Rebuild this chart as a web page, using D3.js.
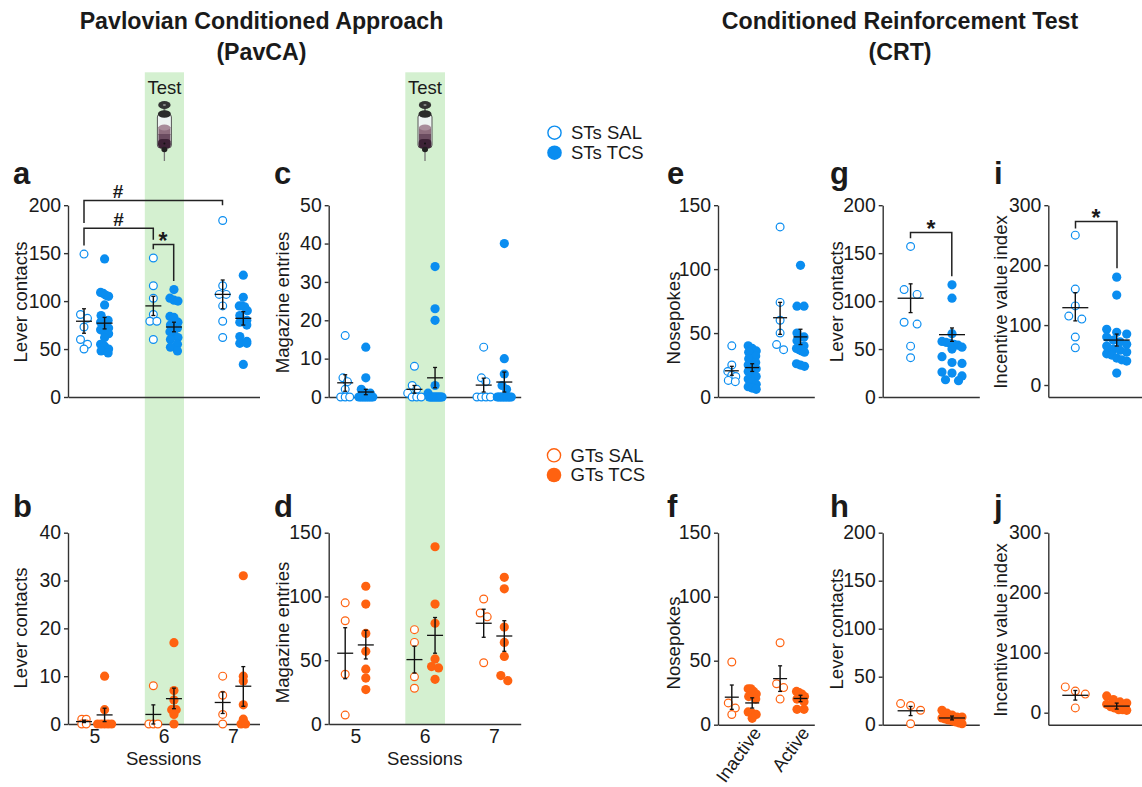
<!DOCTYPE html>
<html><head><meta charset="utf-8">
<script src="https://cdn.jsdelivr.net/npm/d3@7"></script>
<style>html,body{margin:0;padding:0;background:#fff}svg{display:block}text{font-family:"Liberation Sans",Arial,sans-serif;fill:#1a1a1a}</style>
</head><body><svg id="c" width="1142" height="787"></svg>
<script>
// ---------- data ----------
const sessions = [5, 6, 7];
const leverLabels = ["Inactive", "Active"];

const aSal = [[149,86,82,73,60,55,50],[145,116,103,86,79,79,60],[184,116,107,107,95,79,62]];
const aTcs = [[144,109,108,106,105,96,85,80,78,75,72,70,68,66,62,55,53,50,48,46],
              [112,103,101,100,84,83,78,75,72,68,65,62,60,55,52,48],
              [127,104,95,95,94,90,85,80,78,75,63,58,56,56,34]];
const aSalStat = [[79,66.5,92],[95,85,105],[107,92,122]];
const aTcsStat = [[77,71,83],[73,68,78],[82,75,89]];

const bSal = [[1,1,0,0],[8,0,0,0],[10,6,2,0]];
const bTcs = [[10,3,0,0,0,0,0],[17,7,5,3,3,2,0],[31,10,9,4,1,0,0]];
const bSalStat = [[0.5,0.3,0.8],[2,0,4],[4.5,2.2,6.7]];
const bTcsStat = [[1.9,0.5,3.3],[5.3,3.2,7.5],[7.9,3.7,12]];

const cSal = [[16,5,4,2,0,0,0],[8,3,2,1,0,0,0],[13,5,4,0,0,0,0]];
const cTcs = [[13,5,2,1,1,0,0,0,0,0,0,0,0,0],[34,23,20,3,1,0,0,0,0,0,0,0,0,0,0,0,0],[40,10,6,3,2,0,0,0,0,0,0,0,0,0,0]];
const cSalStat = [[3.7,1.5,5.8],[2,1,3],[3.1,1.3,4.9]];
const cTcsStat = [[1.3,0.6,2],[5,2.4,7.7],[3.9,1.3,6.5]];

const dSal = [[95,81,39,7],[74,64,37,28],[98,87,84,48]];
const dTcs = [[108,94,71,57,43,36,27],[139,94,79,51,45,44,35],[115,106,76,64,53,38,34]];
const dSalStat = [[55.5,35.5,75.5],[50.5,40,61],[79,68,90]];
const dTcsStat = [[62,51,73.5],[69.5,55.5,83.5],[69,57,81]];

const eSal = [[40,25,20,17,16,13,12],[133,74,60,50,41,37]];
const eTcs = [[40,38,36,35,32,30,27,25,24,22,20,18,16,14,12,10,8,7,6],[103,71,71,50,47,44,40,38,37,36,35,26,25,24]];
const eSalStat = [[20.5,17,24],[62,49,74]];
const eTcsStat = [[23,20,26],[47,41,53]];

const fSal = [[49,17,13,8],[64,32,29,20]];
const fTcs = [[28,28,26,24,22,20,10,9,8,5],[26,25,24,22,20,18,12,12]];
const fSalStat = [[21.5,12,31],[36,26,46]];
const fTcsStat = [[17,13,21],[20.5,18,23]];

const gSal = [157,112,107,78,76,53,41];
const gTcs = [117,103,66,58,57,56,55,54,52,50,42,36,35,26,25,22,18,17];
const gSalStat = [103,88,118];
const gTcsStat = [65,58,72];

const hSal = [22,20,15,1];
const hTcs = [15,12,10,8,8,7,6,5,4,3,2,1];
const hSalStat = [14.5,9.5,19];
const hTcsStat = [7,5,9];

const iSal = [250,160,132,115,110,80,62];
const iTcs = [180,150,93,88,85,80,75,72,68,65,60,58,55,52,50,45,42,40,20];
const iSalStat = [129,107,154];
const iTcsStat = [75,65,85];

const jSal = [43,36,31,8];
const jTcs = [28,22,18,16,14,10,8,5,5,4];
const jSalStat = [29,21,37];
const jTcsStat = [11,6,16];

// ---------- drawing ----------
const BLUE = "#0a8df0", ORANGE = "#ff6210", INK = "#1a1a1a", AXIS = "#333";
const svg = d3.select("#c");

function txt(x, y, s, size, opt = {}) {
  const t = svg.append("text").attr("x", x).attr("y", y).attr("font-size", size)
    .attr("text-anchor", opt.anchor || "middle").text(s);
  if (opt.bold) t.attr("font-weight", "bold");
  if (opt.rotate !== undefined) t.attr("transform", `rotate(${opt.rotate},${x},${y})`);
  return t;
}

// green "Test" bands + syringe
function syringe(cx) {
  const g = svg.append("g").attr("transform", `translate(${cx},0)`);
  g.append("line").attr("y1", 150).attr("y2", 161).attr("stroke", "#777").attr("stroke-width", 1.3);
  g.append("rect").attr("x", -1).attr("y", 106).attr("width", 2).attr("height", 8).attr("fill", "#777");
  g.append("ellipse").attr("cy", 105).attr("rx", 6.2).attr("ry", 4).attr("fill", "#333");
  g.append("ellipse").attr("cy", 105).attr("rx", 1.6).attr("ry", 1).attr("fill", "#888");
  g.append("rect").attr("x", -7).attr("y", 114).attr("width", 14).attr("height", 34).attr("rx", 3)
    .attr("fill", "#eef4f2").attr("stroke", "#555").attr("stroke-width", 1);
  g.append("rect").attr("x", -6).attr("y", 127).attr("width", 12).attr("height", 8).attr("fill", "#8f6f7f");
  g.append("ellipse").attr("cy", 127.5).attr("rx", 6).attr("ry", 3).attr("fill", "#a88c9a");
  g.append("rect").attr("x", -6).attr("y", 134).attr("width", 12).attr("height", 8).attr("fill", "#6b4c60");
  g.append("rect").attr("x", -6.4).attr("y", 139).attr("width", 12.8).attr("height", 9.5).attr("rx", 4).attr("fill", "#3d2236");
  g.append("ellipse").attr("cy", 114).attr("rx", 6.5).attr("ry", 3.8).attr("fill", "#2b2b2b");
  g.append("ellipse").attr("cy", 149.5).attr("rx", 3).attr("ry", 2.8).attr("fill", "#222");
  g.append("circle").attr("cy", 143.5).attr("r", 1).attr("fill", "#111");
}
[[144.8, 184, 164.4], [405.3, 445, 425]].forEach(([x0, x1, c]) => {
  svg.append("rect").attr("x", x0).attr("y", 72.3).attr("width", x1 - x0).attr("height", 651.7).attr("fill", "#d4f0d0");
  txt(c, 94, "Test", 18.5);
  syringe(c);
});

// headings
txt(261.5, 29, "Pavlovian Conditioned Approach", 23.2, {bold: true});
txt(261.5, 60, "(PavCA)", 23.2, {bold: true});
txt(900, 29, "Conditioned Reinforcement Test", 23.2, {bold: true});
txt(900, 60, "(CRT)", 23.2, {bold: true});

// binned scatter: values falling in the same pixel bin are spread symmetrically, high to low = left to right
function spread(values, y, sw) {
  const sorted = values.slice().sort(d3.descending);
  const bins = [];
  sorted.forEach(v => {
    const py = y(v), last = bins[bins.length - 1];
    if (last && py - last.start < sw.binH) last.items.push({v, y: py});
    else bins.push({start: py, items: [{v, y: py}]});
  });
  const out = [];
  bins.forEach(b => {
    const n = b.items.length;
    const half = Math.min(sw.cap, sw.step * (n - 1) / 2);
    b.items.forEach((d, i) => out.push({...d, dx: n > 1 ? -half + 2 * half * i / (n - 1) : 0}));
  });
  return out;
}

function drawSeries(values, stat, cx, y, color, filled, hw, sw) {
  const pts = spread(values, y, sw);
  const g = svg.append("g");
  g.selectAll("circle").data(pts).join("circle")
    .attr("cx", d => cx + d.dx).attr("cy", d => d.y)
    .attr("r", filled ? 4.6 : 3.9)
    .attr("fill", filled ? color : "#fff")
    .attr("stroke", color).attr("stroke-width", filled ? 0 : 1.2);
  const [m, lo, hi] = stat;
  const line = (x1, x2, y1, y2, w) => g.append("line").attr("x1", x1).attr("x2", x2).attr("y1", y1).attr("y2", y2)
    .attr("stroke", "#111").attr("stroke-width", w);
  line(cx - hw, cx + hw, y(m), y(m), 1.3);
  line(cx, cx, y(lo), y(hi), 1.4);
  line(cx - 2, cx + 2, y(lo), y(lo), 1.3);
  line(cx - 2, cx + 2, y(hi), y(hi), 1.3);
}

function drawAxes(p, y) {
  const frame = d3.scaleLinear().domain([0, 1]).range([p.x0, p.x1]);
  const ya = svg.append("g").attr("transform", `translate(${p.x0},0)`)
    .call(d3.axisLeft(y).tickValues(p.ticks).tickSize(4).tickSizeOuter(0).tickPadding(3));
  const xa = svg.append("g").attr("transform", `translate(0,${p.yBase})`)
    .call(d3.axisBottom(frame).tickValues([]).tickSizeOuter(0));
  [ya, xa].forEach(a => {
    a.select(".domain").attr("stroke", AXIS).attr("stroke-width", 1.4);
    a.selectAll(".tick line").attr("stroke", AXIS).attr("stroke-width", 1.4);
  });
  ya.selectAll("text").attr("font-size", 19.4).attr("fill", INK).style("font-family", '"Liberation Sans",Arial,sans-serif');
}

function panel(p) {
  const y = d3.scaleLinear().domain(p.domain).range([p.yBase, p.yTop]);
  drawAxes(p, y);
  txt(p.letterX, p.letterY, p.letter, 31, {bold: true, anchor: "start"});
  txt(p.labelX, p.labelY, p.label, 18.6, {rotate: -90});
  const color = p.color;
  const sw = p.swarm || NARROW;
  if (p.cats) {
    const x = d3.scalePoint().domain(p.cats).range(p.catRange);
    p.cats.forEach((c, i) => {
      drawSeries(p.sal[i], p.salStat[i], x(c) - p.gap, y, color, false, p.hw, sw);
      drawSeries(p.tcs[i], p.tcsStat[i], x(c) + p.gap, y, color, true, p.hw, sw);
    });
    if (p.sessionAxis) {
      const a = svg.append("g").attr("transform", `translate(0,${p.yBase})`)
        .call(d3.axisBottom(x).tickSize(0).tickPadding(5));
      a.select(".domain").remove();
      a.selectAll("text").attr("font-size", 19.4).attr("fill", INK).style("font-family", '"Liberation Sans",Arial,sans-serif');
      txt((p.catRange[0] + p.catRange[1]) / 2, 765, "Sessions", 18.6);
    }
    if (p.rotated) {
      p.cats.forEach(c => {
        txt(x(c) + 20, 733, c, 18.2, {anchor: "end", rotate: -54});
      });
    }
  } else {
    drawSeries(p.sal, p.salStat, p.center - p.gap, y, color, false, p.hw, sw);
    drawSeries(p.tcs, p.tcsStat, p.center + p.gap, y, color, true, p.hw, sw);
  }
  (p.brackets || []).forEach(b => {
    const path = d3.path();
    path.moveTo(b.x1, y(b.end1)); path.lineTo(b.x1, y(b.top)); path.lineTo(b.x2, y(b.top)); path.lineTo(b.x2, y(b.end2));
    svg.append("path").attr("d", path.toString()).attr("fill", "none").attr("stroke", "#222").attr("stroke-width", 1.5);
    txt(b.markX, y(b.top) + (b.mark === "*" ? 4.6 : -2.5), b.mark, b.mark === "*" ? 23 : 19, {bold: true});
  });
}

const NARROW = {binH: 6, step: 7, cap: 4};
const ZERO_SWARM = {binH: 4, step: 4.5, cap: 7};
const WIDE = {binH: 7.5, step: 13, cap: 10};
const LEFT = {x0: 68, x1: 259.5, letterX: 13, labelX: 27, catRange: [94.3, 233], gap: 10.3, hw: 8, cats: sessions};
const MID  = {x0: 328.7, x1: 520.7, letterX: 274, labelX: 288.5, catRange: [355.5, 494], gap: 10.3, hw: 8, cats: sessions};
const TOP = {yBase: 397, yTop: 205.2, letterY: 184, color: BLUE};
const BOT = {yBase: 724, yTop: 532.7, letterY: 517, color: ORANGE};

panel({...LEFT, ...TOP, letter: "a", label: "Lever contacts", labelY: 302, domain: [0, 200], ticks: [0, 50, 100, 150, 200],
  sal: aSal, tcs: aTcs, salStat: aSalStat, tcsStat: aTcsStat,
  brackets: [
    {x1: 84, x2: 222.5, top: 205, end1: 181.5, end2: 200, mark: "#", markX: 118},
    {x1: 84, x2: 153.3, top: 176, end1: 158, end2: 164, mark: "#", markX: 118.5},
    {x1: 153.3, x2: 173.7, top: 159, end1: 154, end2: 121, mark: "*", markX: 163}
  ]});
panel({...LEFT, ...BOT, letter: "b", label: "Lever contacts", labelY: 628, domain: [0, 40], ticks: [0, 10, 20, 30, 40],
  sal: bSal, tcs: bTcs, salStat: bSalStat, tcsStat: bTcsStat, sessionAxis: true, swarm: ZERO_SWARM});
panel({...MID, ...TOP, letter: "c", label: "Magazine entries", labelY: 302.5, domain: [0, 50], ticks: [0, 10, 20, 30, 40, 50],
  sal: cSal, tcs: cTcs, salStat: cSalStat, tcsStat: cTcsStat, swarm: ZERO_SWARM});
panel({...MID, ...BOT, letter: "d", label: "Magazine entries", labelY: 632.5, domain: [0, 150], ticks: [0, 50, 100, 150],
  sal: dSal, tcs: dTcs, salStat: dSalStat, tcsStat: dTcsStat, sessionAxis: true});

const E = {x0: 718, x1: 814.3, letterX: 667, labelX: 680, cats: leverLabels, catRange: [742, 790.3], gap: 10.2, hw: 7, domain: [0, 150], ticks: [0, 50, 100, 150]};
panel({...E, ...TOP, letter: "e", label: "Nosepokes", labelY: 318, sal: eSal, tcs: eTcs, salStat: eSalStat, tcsStat: eTcsStat});
panel({...E, ...BOT, yBase: 724.7, letter: "f", label: "Nosepokes", labelY: 643, sal: fSal, tcs: fTcs, salStat: fSalStat, tcsStat: fTcsStat, rotated: true});

const G = {x0: 882.7, x1: 979.3, letterX: 830, labelX: 843, center: 931.3, gap: 20.7, hw: 13, domain: [0, 200], ticks: [0, 50, 100, 150, 200], swarm: WIDE};
panel({...G, ...TOP, letter: "g", label: "Lever contacts", labelY: 301.7, sal: gSal, tcs: gTcs, salStat: gSalStat, tcsStat: gTcsStat,
  brackets: [{x1: 910.5, x2: 951.8, top: 171.6, end1: 165.6, end2: 126, mark: "*", markX: 931}]});
panel({...G, ...BOT, yBase: 724.7, letter: "h", label: "Lever contacts", labelY: 629, sal: hSal, tcs: hTcs, salStat: hSalStat, tcsStat: hTcsStat});

const I = {x0: 1048.3, x1: 1142, letterX: 994, labelX: 1007, center: 1096, gap: 20.7, hw: 13, domain: [-20, 300], ticks: [0, 100, 200, 300], swarm: WIDE};
panel({...I, ...TOP, letter: "i", label: "Incentive value index", labelY: 302, sal: iSal, tcs: iTcs, salStat: iSalStat, tcsStat: iTcsStat,
  brackets: [{x1: 1075.5, x2: 1117, top: 273, end1: 261, end2: 195, mark: "*", markX: 1096}]});
panel({...I, ...BOT, yBase: 724.7, letter: "j", label: "Incentive value index", labelY: 630, sal: jSal, tcs: jTcs, salStat: jSalStat, tcsStat: jTcsStat});

// legends
[[554.5, 132.7, BLUE, false, "STs SAL"], [554.5, 152.7, BLUE, true, "STs TCS"],
 [554, 455.3, ORANGE, false, "GTs SAL"], [554, 475, ORANGE, true, "GTs TCS"]].forEach(([x, y, col, filled, label]) => {
  svg.append("circle").attr("cx", x).attr("cy", y).attr("r", filled ? 7.3 : 6.6)
    .attr("fill", filled ? col : "#fff").attr("stroke", col).attr("stroke-width", filled ? 0 : 1.4);
  txt(x + 16.5, y + 6.4, label, 18.5, {anchor: "start"});
});
</script></body></html>
